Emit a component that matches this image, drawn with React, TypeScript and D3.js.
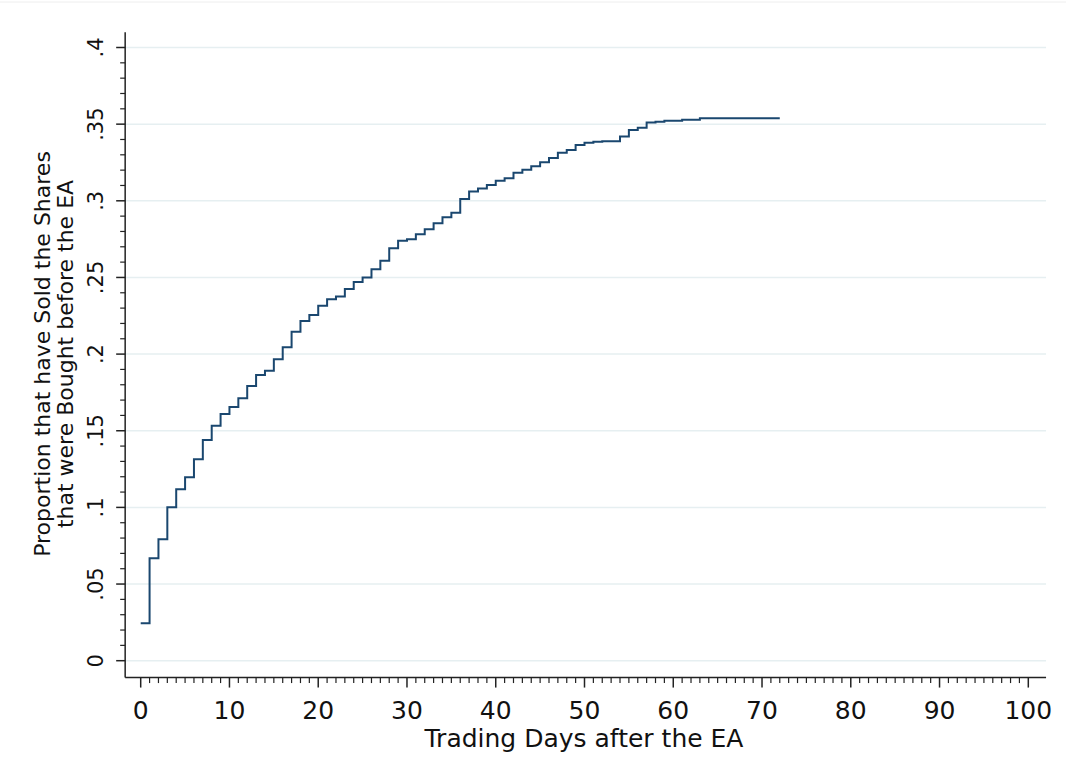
import React from "react";
import * as d3 from "d3";

// step values (day -> proportion)
const days = [
  0, 1, 2, 3, 4, 5, 6, 7, 8, 9, 10, 11, 12, 13, 14, 15, 16, 17, 18, 19, 20, 21, 22, 23, 24, 25, 26, 27, 28, 29, 30,
  31, 32, 33, 34, 35, 36, 37, 38, 39, 40, 41, 42, 43, 44, 45, 46, 47, 48, 49, 50, 51, 52, 53, 54, 55, 56, 57, 58, 59,
  60, 61, 62, 63, 72,
];
const proportions = [
  0.0244, 0.0668, 0.0792, 0.1001, 0.1118, 0.1196, 0.1314, 0.144, 0.1532, 0.161, 0.1655, 0.1712, 0.1792, 0.1864,
  0.1892, 0.1966, 0.2044, 0.2146, 0.2216, 0.2255, 0.2316, 0.2358, 0.2375, 0.2425, 0.247, 0.2499, 0.2553, 0.2609,
  0.269, 0.274, 0.275, 0.2782, 0.2815, 0.2853, 0.2892, 0.2922, 0.3012, 0.306, 0.3081, 0.3103, 0.3131, 0.3147, 0.3183,
  0.3203, 0.3225, 0.3252, 0.328, 0.3314, 0.3331, 0.3364, 0.3379, 0.3386, 0.3388, 0.3388, 0.342, 0.3462, 0.3477,
  0.351, 0.3516, 0.3522, 0.3522, 0.3529, 0.3529, 0.3538, 0.3538,
];

const yTicks = [0, 0.05, 0.1, 0.15, 0.2, 0.25, 0.3, 0.35, 0.4];
const yTickLabels = ["0", ".05", ".1", ".15", ".2", ".25", ".3", ".35", ".4"];
const xTicks = [0, 10, 20, 30, 40, 50, 60, 70, 80, 90, 100];
const xTitle = "Trading Days after the EA";
const yTitle = ["Proportion that have Sold the Shares", "that were Bought before the EA"];

const W = 1066;
const H = 782;
const font = "DejaVu Sans, sans-serif";
const navy = "#1a476f";
const gridColor = "#e6eff1";

export default function App() {
  const x = d3.scaleLinear().domain([0, 100]).range([140.7, 1028.3]);
  const y = d3.scaleLinear().domain([0, 0.4]).range([660.7, 47.5]);

  const axisX = x(-1.75); // y-axis position
  const axisY = y(-0.011); // x-axis position
  const plotRight = x(102);
  const plotTop = y(0.41);

  const yMinor = d3.range(0, 41).map((d) => d / 100).filter((v) => Math.round(v * 100) % 5 !== 0);
  const xMinor = d3.range(0, 101).filter((d) => d % 10 !== 0);

  const pts = days.map((d, i) => [d, proportions[i]] as [number, number]);
  const line = d3
    .line<[number, number]>()
    .x((d) => x(d[0]))
    .y((d) => y(d[1]))
    .curve(d3.curveStepAfter);

  return (
    <div style={{ position: "absolute", left: 0, top: 0 }}>
      <svg width={W} height={H} style={{ display: "block", background: "#fff" }}>
        {/* faint border remnant at the top of the image */}
        <line x1={0} x2={W} y1={2} y2={2} stroke="#eeeeee" strokeWidth={1} />

        {/* gridlines */}
        {yTicks.map((t) => (
          <line key={"g" + t} x1={axisX} x2={plotRight} y1={y(t)} y2={y(t)} stroke={gridColor} strokeWidth={1.5} />
        ))}

        {/* step curve */}
        <path d={line(pts) || ""} fill="none" stroke={navy} strokeWidth={2} />

        {/* y axis */}
        <line x1={axisX} x2={axisX} y1={plotTop} y2={axisY} stroke="#222" strokeWidth={1.5} />
        {yTicks.map((t) => (
          <line key={"ym" + t} x1={axisX - 9} x2={axisX} y1={y(t)} y2={y(t)} stroke="#222" strokeWidth={1.5} />
        ))}
        {yMinor.map((t) => (
          <line key={"yn" + t} x1={axisX - 5} x2={axisX} y1={y(t)} y2={y(t)} stroke="#222" strokeWidth={1.2} />
        ))}
        {yTicks.map((t, i) => (
          <text
            key={"yl" + t}
            transform={`translate(103, ${y(t)}) rotate(-90)`}
            textAnchor="middle"
            fontFamily={font}
            fontSize={21}
            fill="#111"
          >
            {yTickLabels[i]}
          </text>
        ))}

        {/* x axis */}
        <line x1={axisX} x2={plotRight} y1={axisY} y2={axisY} stroke="#222" strokeWidth={1.5} />
        {xTicks.map((t) => (
          <line key={"xm" + t} x1={x(t)} x2={x(t)} y1={axisY} y2={axisY + 10} stroke="#222" strokeWidth={1.5} />
        ))}
        {xMinor.map((t) => (
          <line key={"xn" + t} x1={x(t)} x2={x(t)} y1={axisY} y2={axisY + 5.5} stroke="#222" strokeWidth={1.2} />
        ))}
        {xTicks.map((t) => (
          <text key={"xl" + t} x={x(t)} y={719} textAnchor="middle" fontFamily={font} fontSize={25} fill="#111">
            {t}
          </text>
        ))}

        {/* titles */}
        <text x={584} y={747} textAnchor="middle" fontFamily={font} fontSize={25} fill="#111">
          {xTitle}
        </text>
        {yTitle.map((s, i) => (
          <text
            key={s}
            transform={`translate(${50 + i * 23}, 354) rotate(-90)`}
            textAnchor="middle"
            fontFamily={font}
            fontSize={22}
            fill="#111"
          >
            {s}
          </text>
        ))}
      </svg>
    </div>
  );
}
